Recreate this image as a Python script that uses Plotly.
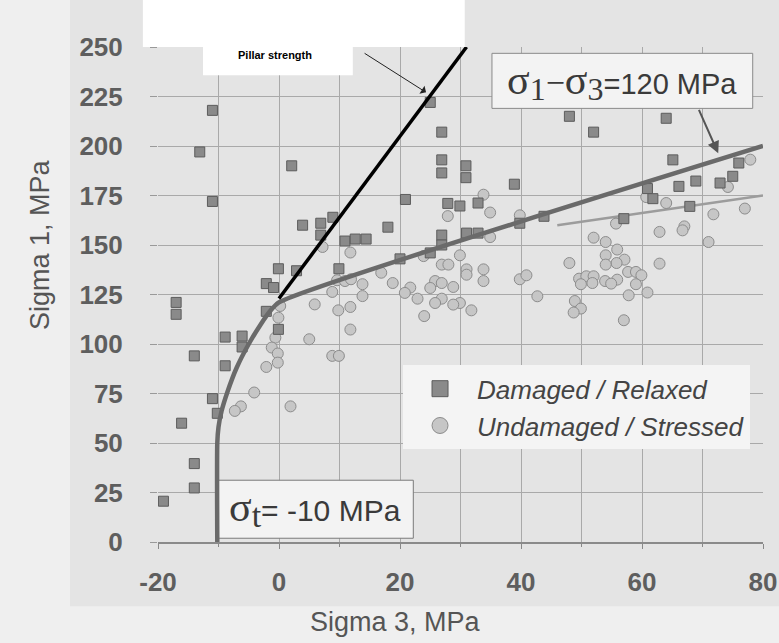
import plotly.graph_objects as go

# ---------------- data ----------------
damaged_s3 = [-11.0, -13.1, 2.1, -11.0, 3.9, 6.9, 6.9, 8.9, -0.1, 2.9, -2.1, -0.9, -17.0, -17.0,
              -2.1, -0.1, -8.9, -6.1, -6.1, -14.0, -8.9, -11.0, -10.2, -16.1, -14.0, -14.0, -19.1,
              25.0, 26.9, 26.9, 26.9, 30.9, 30.9, 38.9, 20.9, 27.9, 29.9, 32.9, 18.0, 39.8,
              10.9, 12.6, 14.4, 26.9, 26.9, 31.0, 32.9, 25.0, 20.0, 9.9,
              48.0, 52.0, 64.0, 65.1, 76.0, 75.0, 68.9, 66.1, 72.9, 60.9, 61.8, 67.9, 57.0, 43.8]
damaged_s1 = [218, 197, 190, 172, 160, 161, 155, 164, 138, 137, 130.5, 128.5, 121, 115,
              116.5, 107.4, 103.5, 104, 98.5, 94, 89, 72.4, 65, 60, 39.6, 27.3, 20.6,
              222, 207, 193, 186.4, 190, 184, 180.7, 173, 171, 169.7, 171.2, 159, 161,
              152, 153, 153, 155, 150, 156, 156, 146, 143, 138,
              215, 207, 214, 193, 191.4, 184.7, 182.3, 179.6, 181.3, 178.5, 173.4, 169.5, 163.3, 164.5]

undamaged_s3 = [5.9, 0.2, -0.1, -0.6, 5.0, -1.2, -0.2, -0.2, -2.1, -4.1, 1.9, -6.3, -7.3,
                33.8, 34.9, 27.9, 39.8,
                34.9, 7.2, 11.8, 29.9, 23.9, 26.9, 28.0, 31.0, 33.8, 31.0, 16.9, 9.6, 10.9, 11.9,
                13.8, 18.8, 25.8, 26.9, 33.8, 39.8, 40.9, 21.7, 25.0, 28.8, 8.8, 13.8, 20.8, 22.9,
                42.7, 26.9, 25.8, 29.9, 28.8, 11.8, 9.8, 31.8, 24.0, 11.8, 8.8, 9.9,
                77.9, 74.2, 64.0, 60.7, 77.0, 71.8, 67.0, 55.7,
                62.9, 66.7, 71.0, 52.0, 54.0, 55.9, 54.0, 57.1, 55.8, 54.0, 48.0, 62.9, 57.7, 59.0,
                59.9, 55.9, 49.6, 50.8, 52.0, 49.9, 51.8, 53.9, 54.9, 59.0, 57.8, 60.9, 48.9, 49.9,
                48.7, 57.0]
undamaged_s1 = [120, 119.2, 113.3, 103.2, 102.4, 98.2, 95.2, 90.6, 88.4, 75.5, 68.5, 68.5, 66.2,
                175.4, 166.4, 164.6, 165,
                154, 149, 146.2, 144.8, 144.4, 140.1, 140.1, 137.7, 137.7, 135, 136, 132.2, 131.8, 132.7,
                130.2, 130.8, 131.8, 130.8, 131.8, 132.7, 134.7, 128.5, 128.3, 128.8, 126.3, 124.2, 125.8, 122.9,
                124.1, 122.9, 120.7, 120.7, 119.9, 118.7, 117, 117, 114.1, 107.3, 94, 94,
                193.1, 179.3, 171.2, 174.2, 168.4, 165.5, 159.4, 160.8,
                156.6, 157.4, 151.5, 153.7, 151.5, 147.7, 144.8, 142.6, 140.9, 140.1, 140.9, 140.6, 136.4, 136.4,
                134.7, 132.5, 133, 134.2, 134.2, 130.2, 130.8, 131.8, 130.5, 130.2, 124.6, 126, 121.7, 117.9,
                115.9, 112]

# failure envelope (tension cut-off + curve + sigma1 - sigma3 = 120 line)
envelope_s3 = [-10.2, -10.2, -10.0, -9.5, -8.5, -7.0, -5.0, -3.0, -1.5, 0.0, 80.0]
envelope_s1 = [0, 50, 58, 66, 76, 88, 100, 110, 116.5, 121, 200]

# pillar strength line
pillar_s3 = [0.0, 31.0]
pillar_s1 = [123, 250]

# lighter trend line through the undamaged points
trend_s3 = [46.0, 80.0]
trend_s1 = [160, 175]

x_ticks = [-20, 0, 20, 40, 60, 80]
y_ticks = [0, 25, 50, 75, 100, 125, 150, 175, 200, 225, 250]

# ---------------- figure ----------------
SQ_FILL, SQ_LINE = "#8a8a8a", "#5c5c5c"
CI_FILL, CI_LINE = "#c6c6c6", "#8c8c8c"
SANS = "Liberation Sans"
SERIF = "Liberation Serif"

fig = go.Figure()

fig.add_trace(go.Scatter(x=trend_s3, y=trend_s1, mode="lines",
                         line=dict(color="#9c9c9c", width=2.5), showlegend=False, hoverinfo="skip"))
fig.add_trace(go.Scatter(x=undamaged_s3, y=undamaged_s1, mode="markers",
                         marker=dict(symbol="circle", size=11, color=CI_FILL,
                                     line=dict(color=CI_LINE, width=1)),
                         showlegend=False))
fig.add_trace(go.Scatter(x=damaged_s3, y=damaged_s1, mode="markers",
                         marker=dict(symbol="square", size=10, color=SQ_FILL,
                                     line=dict(color=SQ_LINE, width=1)),
                         showlegend=False))
fig.add_trace(go.Scatter(x=envelope_s3, y=envelope_s1, mode="lines",
                         line=dict(color="#6a6a6a", width=4.5, shape="spline", smoothing=0.6),
                         showlegend=False, hoverinfo="skip"))
fig.add_trace(go.Scatter(x=pillar_s3, y=pillar_s1, mode="lines",
                         line=dict(color="#000000", width=3.5), showlegend=False, hoverinfo="skip"))

# legend-only entries
fig.add_trace(go.Scatter(x=[None], y=[None], mode="markers", name="Damaged / Relaxed",
                         marker=dict(symbol="square", size=22, color=SQ_FILL,
                                     line=dict(color=SQ_LINE, width=1))))
fig.add_trace(go.Scatter(x=[None], y=[None], mode="markers", name="Undamaged / Stressed",
                         marker=dict(symbol="circle", size=22, color=CI_FILL,
                                     line=dict(color=CI_LINE, width=1))))

GRID = "#a9a9a9"
TICKFONT = dict(family=SANS, size=26, color="#5e5e5e", weight="bold")

fig.update_xaxes(range=[-20, 80], tickvals=x_ticks, ticktext=[str(v) for v in x_ticks],
                 automargin=False, ticklabeloverflow="allow",
                 showgrid=True, gridcolor=GRID, gridwidth=1,
                 minor=dict(dtick=10, showgrid=True, gridcolor=GRID, gridwidth=1,
                            ticks="outside", ticklen=3, tickcolor="#888"),
                 ticks="outside", ticklen=5, tickcolor="#888",
                 showline=True, linecolor="#8a8a8a", linewidth=2,
                 zeroline=False, tickfont=TICKFONT, ticklabelstandoff=11)
fig.update_yaxes(range=[0, 250], tickvals=y_ticks, ticktext=[str(v) for v in y_ticks],
                 automargin=False, ticklabeloverflow="allow",
                 showgrid=True, gridcolor=GRID, gridwidth=1,
                 ticks="outside", ticklen=7, tickcolor="#999",
                 showline=False, zeroline=False, tickfont=TICKFONT, ticklabelstandoff=22)

shapes = [
    # darker scan panel behind the chart
    dict(type="rect", xref="paper", yref="paper", x0=-0.1455, x1=1.03, y0=-0.13, y1=1.1,
         fillcolor="#e4e4e4", line=dict(width=0), layer="below"),
    # white label areas at the top
    dict(type="rect", xref="paper", yref="paper", x0=-0.025, x1=0.507, y0=1.0, y1=1.1,
         fillcolor="#ffffff", line=dict(width=0), layer="above"),
    dict(type="rect", xref="paper", yref="paper", x0=0.0744, x1=0.322, y0=0.943, y1=1.1,
         fillcolor="#ffffff", line=dict(width=0), layer="above"),
    # sigma_t box
    dict(type="rect", xref="x", yref="y", x0=-10.3, x1=22.2, y0=1.9, y1=31.2,
         fillcolor="#f3f3f3", line=dict(color="#7a7a7a", width=1), layer="between"),
    # sigma1 - sigma3 box
    dict(type="rect", xref="x", yref="y", x0=35.2, x1=78.3, y0=219, y1=246.8,
         fillcolor="#f3f3f3", line=dict(color="#8a8a8a", width=1), layer="between"),
]

annotations = [
    dict(xref="paper", yref="paper", x=0.193, y=0.983, xanchor="center", yanchor="middle",
         text="<b>Pillar strength</b>",
         showarrow=False, font=dict(family=SANS, size=11, color="#000")),
    # axis titles
    dict(xref="paper", yref="paper", x=0.392, y=-0.162, xanchor="center", yanchor="middle",
         text="Sigma 3, MPa", showarrow=False,
         font=dict(family=SANS, size=27, color="#555")),
    dict(xref="paper", yref="paper", x=-0.195, y=0.6, xanchor="center", yanchor="middle",
         text="Sigma 1, MPa", showarrow=False, textangle=-90,
         font=dict(family=SANS, size=27, color="#555")),
    # arrow to the pillar strength line
    dict(x=24.3, y=227.1, ax=13.9, ay=247.3, xref="x", yref="y", axref="x", ayref="y",
         text="", showarrow=True, arrowhead=1, arrowsize=1.6, arrowwidth=1, arrowcolor="#222"),
    # arrow to the sigma1-sigma3 line
    dict(x=72.6, y=196.3, ax=69.3, ay=219, xref="x", yref="y", axref="x", ayref="y",
         text="", showarrow=True, arrowhead=2, arrowsize=1.2, arrowwidth=2, arrowcolor="#555"),
    dict(x=6.0, y=16.5, xref="x", yref="y", xanchor="center", yanchor="middle", showarrow=False,
         text=(f'<span style="font-family:{SERIF};font-size:42px">σ</span>'
               f'<sub><span style="font-family:{SERIF};font-size:34px">t</span></sub>'
               '= -10 MPa'),
         font=dict(family=SANS, size=30, color="#3a3a3a")),
    dict(x=56.7, y=232.5, xref="x", yref="y", xanchor="center", yanchor="middle", showarrow=False,
         text=(f'<span style="font-family:{SERIF};font-size:42px">σ</span>'
               f'<sub><span style="font-family:{SERIF};font-size:32px">1</span></sub>'
               f'<span style="font-family:{SERIF};font-size:34px">−</span>'
               f'<span style="font-family:{SERIF};font-size:42px">σ</span>'
               f'<sub><span style="font-family:{SERIF};font-size:32px">3</span></sub>'
               '=120 MPa'),
         font=dict(family=SANS, size=29, color="#3a3a3a")),
]

fig.update_layout(
    width=779, height=643,
    margin=dict(l=158, r=16, t=47, b=101),
    paper_bgcolor="#efefef", plot_bgcolor="#e4e4e4",
    shapes=shapes, annotations=annotations,
    legend=dict(x=0.405, y=0.357, xanchor="left", yanchor="top",
                bgcolor="#f4f4f4", borderwidth=0, itemwidth=64,
                font=dict(family=SANS, size=26, color="#444", style="italic")),
    showlegend=True,
)

fig.write_html("out.html", config={"displayModeBar": False},
               post_script="document.body.style.margin='0px';document.body.style.overflow='hidden';")
